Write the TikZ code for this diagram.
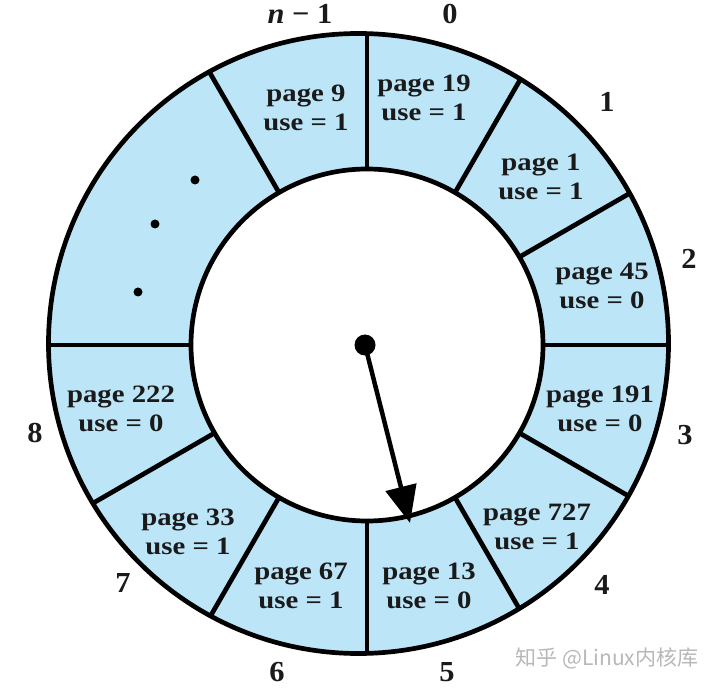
\documentclass[tikz,border=0pt]{standalone}
\usepackage{fontspec}
\setmainfont{Liberation Serif}
\newfontfamily\lblfont[FakeStretch=1.15]{Liberation Serif}
\newfontfamily\numfont[FakeStretch=1.05]{Liberation Serif}
\newfontfamily\cjkfont{Noto Sans CJK SC}
\usetikzlibrary{arrows.meta}
\definecolor{ringblue}{HTML}{BDE5F8}
\definecolor{inkc}{HTML}{1A1A1A}
\begin{document}
\begin{tikzpicture}[x=1pt,y=1pt,
  ring/.style={line width=4.7pt, draw=black},
  pagelbl/.style={font=\lblfont\bfseries\fontsize{25}{29}\selectfont, align=center, text=inkc, inner sep=0pt},
  numlbl/.style={font=\numfont\bfseries\fontsize{29}{32}\selectfont, text=inkc, inner sep=0pt},
  dotc/.style={circle, fill=black, inner sep=0pt, minimum size=9pt},
  pointer/.style={line width=4.5pt, -{Triangle[length=37pt,width=31pt]}},
  wmark/.style={font=\cjkfont\fontsize{21}{22}\selectfont, text=black!28}
]
\useasboundingbox (0,0) rectangle (720,689);
\fill[white] (0,0) rectangle (720,689);
\coordinate (O) at (358.5,345.5);
\coordinate (I) at (367,344);
\fill[ringblue, even odd rule] (O) circle (310) (I) circle (176);
\begin{scope}
  \clip (O) circle (310);
  \foreach \a in {90,60,30,0,-30,-60,-90,-120,-150,180,120}
    \draw[ring] (I) ++(\a:176) -- ++(\a:220);
\end{scope}
\draw[ring] (O) circle (310);
\draw[ring] (I) circle (176);

% frame labels
\node[pagelbl] (p9)   at (306,581) {page 9\\use = 1};
\node[pagelbl] (p19)  at (424,591) {page 19\\use = 1};
\node[pagelbl] (p1)   at (541,512) {page 1\\use = 1};
\node[pagelbl] (p45)  at (602,403) {page 45\\use = 0};
\node[pagelbl] (p191) at (600,280) {page 191\\use = 0};
\node[pagelbl] (p727) at (537,162) {page 727\\use = 1};
\node[pagelbl] (p13)  at (429,103) {page 13\\use = 0};
\node[pagelbl] (p67)  at (301,103) {page 67\\use = 1};
\node[pagelbl] (p33)  at (188,157) {page 33\\use = 1};
\node[pagelbl] (p222) at (121,280) {page 222\\use = 0};

% ellipsis dots
\node[dotc] (d1) at (195,509) {};
\node[dotc] (d2) at (155,465) {};
\node[dotc] (d3) at (138,397) {};

% slot numbers
\node[numlbl] (nm1) at (300,675) {\textit{n} − 1};
\node[numlbl] (n0)  at (450,675) {0};
\node[numlbl] (n1)  at (607,587) {1};
\node[numlbl] (n2)  at (689,430) {2};
\node[numlbl] (n3)  at (685,254) {3};
\node[numlbl] (n4)  at (602,104) {4};
\node[numlbl] (n5)  at (447,17) {5};
\node[numlbl] (n6)  at (277,17) {6};
\node[numlbl] (n7)  at (123,106) {7};
\node[numlbl] (n8)  at (35,256) {8};

% pointer
\node[circle, fill=black, inner sep=0pt, minimum size=21pt] (hub) at (365,344) {};
\coordinate (tip) at (410,166);
\draw[pointer] (hub.center) -- (tip);

% watermark
\node[wmark] (wm) at (607,31) {知乎 @Linux内核库};
\end{tikzpicture}
\end{document}
